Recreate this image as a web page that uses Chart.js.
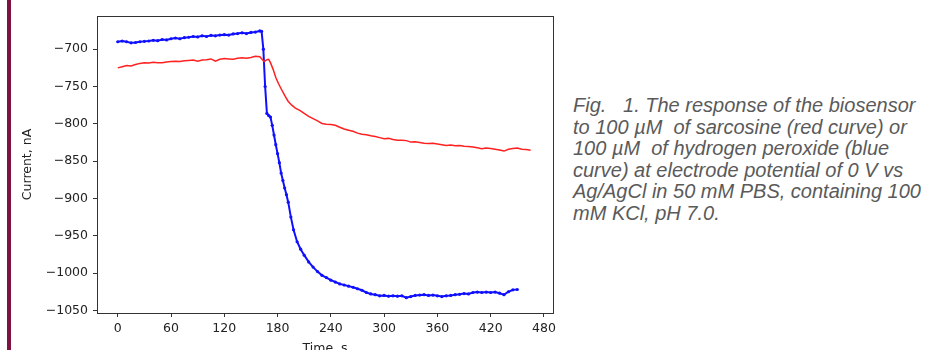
<!DOCTYPE html>
<html>
<head>
<meta charset="utf-8">
<script src="https://cdn.jsdelivr.net/npm/chart.js@4.4.0/dist/chart.umd.min.js"></script>
<style>
  html, body { margin: 0; padding: 0; background: #fff; }
  body { width: 933px; height: 350px; overflow: hidden; position: relative; }
  #bar { position: absolute; left: 7px; top: 0; width: 4px; height: 350px; background: #7d1242; }
  #plot { position: absolute; left: 0; top: 0; width: 560px; height: 365px; }
  #caption {
    position: absolute; left: 573px; top: 95px;
    font-family: "Liberation Sans", Arial, sans-serif; font-style: italic;
    font-size: 20px; line-height: 21.5px; color: #5a5a5a; white-space: nowrap;
  }
</style>
</head>
<body>
<div id="bar"></div>
<div id="plot"><canvas id="chart"></canvas></div>
<div id="caption">
Fig.&nbsp;&nbsp; 1. The response of the biosensor<br>
to 100 µM&nbsp; of sarcosine (red curve) or<br>
100 µM&nbsp; of hydrogen peroxide (blue<br>
curve) at electrode potential of 0 V vs<br>
Ag/AgCl in 50 mM PBS, containing 100<br>
mM KCl, pH 7.0.
</div>
<script>
// Réponse du biocapteur : sarcosine (rouge) / H2O2 (bleu)

const blueTime = [0, 5, 10, 15, 20, 25, 30, 35, 40, 45, 50, 55, 60, 65, 70, 75, 80, 85, 90, 95,
    100, 105, 110, 115, 120, 125, 130, 135, 140, 145, 150, 155, 160, 162, 164, 166, 168, 170, 172, 174,
    176, 178, 180, 182, 184, 186, 188, 190, 192, 195, 198, 202, 206, 210, 215, 220, 225, 230, 235, 240,
    245, 250, 255, 260, 265, 270, 275, 280, 285, 290, 295, 300, 305, 310, 315, 320, 325, 330, 335, 340,
    345, 350, 355, 360, 365, 370, 375, 380, 385, 390, 395, 400, 405, 410, 415, 420, 425, 430, 435, 440,
    445, 450];
const blueCurrent = [-690, -689, -690, -691.5, -691, -690, -689.5, -689, -688, -688.5, -687, -687.5, -686, -685, -686, -684.5, -684, -683, -683.5, -682,
    -683, -681.5, -682, -681, -680.5, -681, -679.5, -679, -678, -679, -677.5, -677, -675.5, -676, -700, -750, -786, -789, -791, -802,
    -815, -828, -840, -852, -866, -876, -886, -895, -905, -925, -942, -958, -968, -976, -985, -992, -998, -1003, -1006, -1009.5,
    -1012, -1014.5, -1016, -1017.5, -1019, -1021, -1023, -1026, -1028, -1029, -1030.5, -1030, -1031, -1030.5, -1031, -1030.5, -1033, -1031.5, -1030, -1029.5,
    -1029, -1030, -1029.5, -1030.5, -1031.5, -1030.5, -1030, -1029, -1028.5, -1027.5, -1028, -1026, -1025.5, -1026, -1025.5, -1026, -1025.5, -1027, -1029, -1025,
    -1022.5, -1022];

const redTime = [0, 5, 10, 15, 20, 25, 30, 35, 40, 45, 50, 55, 60, 65, 70, 75, 80, 85, 90, 95,
    100, 105, 110, 115, 120, 125, 130, 135, 140, 145, 150, 155, 160, 163, 165, 168, 170, 172, 175, 178,
    181, 184, 188, 192, 196, 200, 205, 210, 215, 220, 225, 230, 235, 240, 245, 250, 255, 260, 265, 270,
    275, 280, 285, 290, 295, 300, 305, 310, 315, 320, 325, 330, 335, 340, 345, 350, 355, 360, 365, 370,
    375, 380, 385, 390, 395, 400, 405, 410, 415, 420, 425, 430, 435, 440, 445, 450, 455, 460, 465];
const redCurrent = [-725, -723.5, -722, -722.5, -720.5, -719, -718, -718.5, -717.5, -718, -718, -717, -716.5, -716, -716.5, -715.5, -715, -714.5, -716, -714.5,
    -714, -713, -716, -713.5, -712.5, -713, -713.5, -712, -711.5, -712, -711, -709.5, -710, -714, -716.5, -714, -713.5, -718, -727, -738,
    -746, -753, -762, -770, -775, -779, -782, -786, -790, -793, -796, -799.5, -800.5, -801, -802, -804.5, -807, -808.5, -810, -812.5,
    -814, -814.5, -816, -817, -818.5, -820, -819.5, -821, -822, -822, -822.5, -824.5, -824, -825, -826, -826.5, -826, -827, -828, -829,
    -828.5, -829.5, -829, -830, -830.5, -831, -832, -833.5, -832.5, -833, -834, -835, -836.5, -834, -833, -832.5, -834, -834.5, -835.5];

const xTicks = [0, 60, 120, 180, 240, 300, 360, 420, 480];
const yTicks = [-1050, -1000, -950, -900, -850, -800, -750, -700];

const toPoints = (xs, ys) => xs.map((x, i) => ({ x: x, y: ys[i] }));

// cadre complet autour de la zone de tracé (style matplotlib)
const framePlugin = {
    id: 'frame',
    afterDraw(chart) {
        const a = chart.chartArea;
        const ctx = chart.ctx;
        ctx.save();
        ctx.strokeStyle = '#333';
        ctx.lineWidth = 1;
        ctx.strokeRect(Math.round(a.left) + 0.5, Math.round(a.top) + 0.5,
            Math.round(a.right - a.left), Math.round(a.bottom - a.top));
        ctx.restore();
    }
};

const tickFont = { family: '"DejaVu Sans", sans-serif', size: 12.5 };

new Chart(document.getElementById('chart').getContext('2d'), {
    type: 'line',
    data: {
        datasets: [
            {
                label: 'sarcosine',
                data: toPoints(redTime, redCurrent),
                borderColor: '#ff2020',
                borderWidth: 1.5,
                pointRadius: 0,
                tension: 0
            },
            {
                label: 'H2O2',
                data: toPoints(blueTime, blueCurrent),
                borderColor: '#1010ff',
                backgroundColor: '#1010ff',
                borderWidth: 2,
                pointRadius: 1.6,
                pointBorderWidth: 0,
                tension: 0
            }
        ]
    },
    options: {
        responsive: true,
        maintainAspectRatio: false,
        animation: false,
        layout: { padding: { top: 16, right: 6, left: 0, bottom: 0 } },
        plugins: { legend: { display: false }, tooltip: { enabled: false } },
        scales: {
            x: {
                type: 'linear',
                min: -23.35,
                max: 490.35,
                afterBuildTicks: s => { s.ticks = xTicks.map(v => ({ value: v })); },
                afterFit: s => { s.height = 52; },
                grid: { drawOnChartArea: false, tickLength: 4, color: '#333' },
                border: { display: false },
                ticks: { font: tickFont, color: '#222', padding: 4, maxRotation: 0, autoSkip: false },
                title: { display: true, text: 'Time, s', font: tickFont, color: '#222', padding: { top: 0, bottom: 9 } }
            },
            y: {
                min: -1053.5,
                max: -655.5,
                afterBuildTicks: s => { s.ticks = yTicks.map(v => ({ value: v })); },
                afterFit: s => { s.width = 97; },
                grid: { drawOnChartArea: false, tickLength: 4, color: '#333' },
                border: { display: false },
                ticks: {
                    font: tickFont, color: '#222', padding: 5,
                    callback: v => String(v).replace('-', '\u2212')
                },
                title: { display: true, text: 'Current, nA', font: tickFont, color: '#222', padding: { top: 20, bottom: 0 } }
            }
        }
    },
    plugins: [framePlugin]
});
</script>
</body>
</html>
